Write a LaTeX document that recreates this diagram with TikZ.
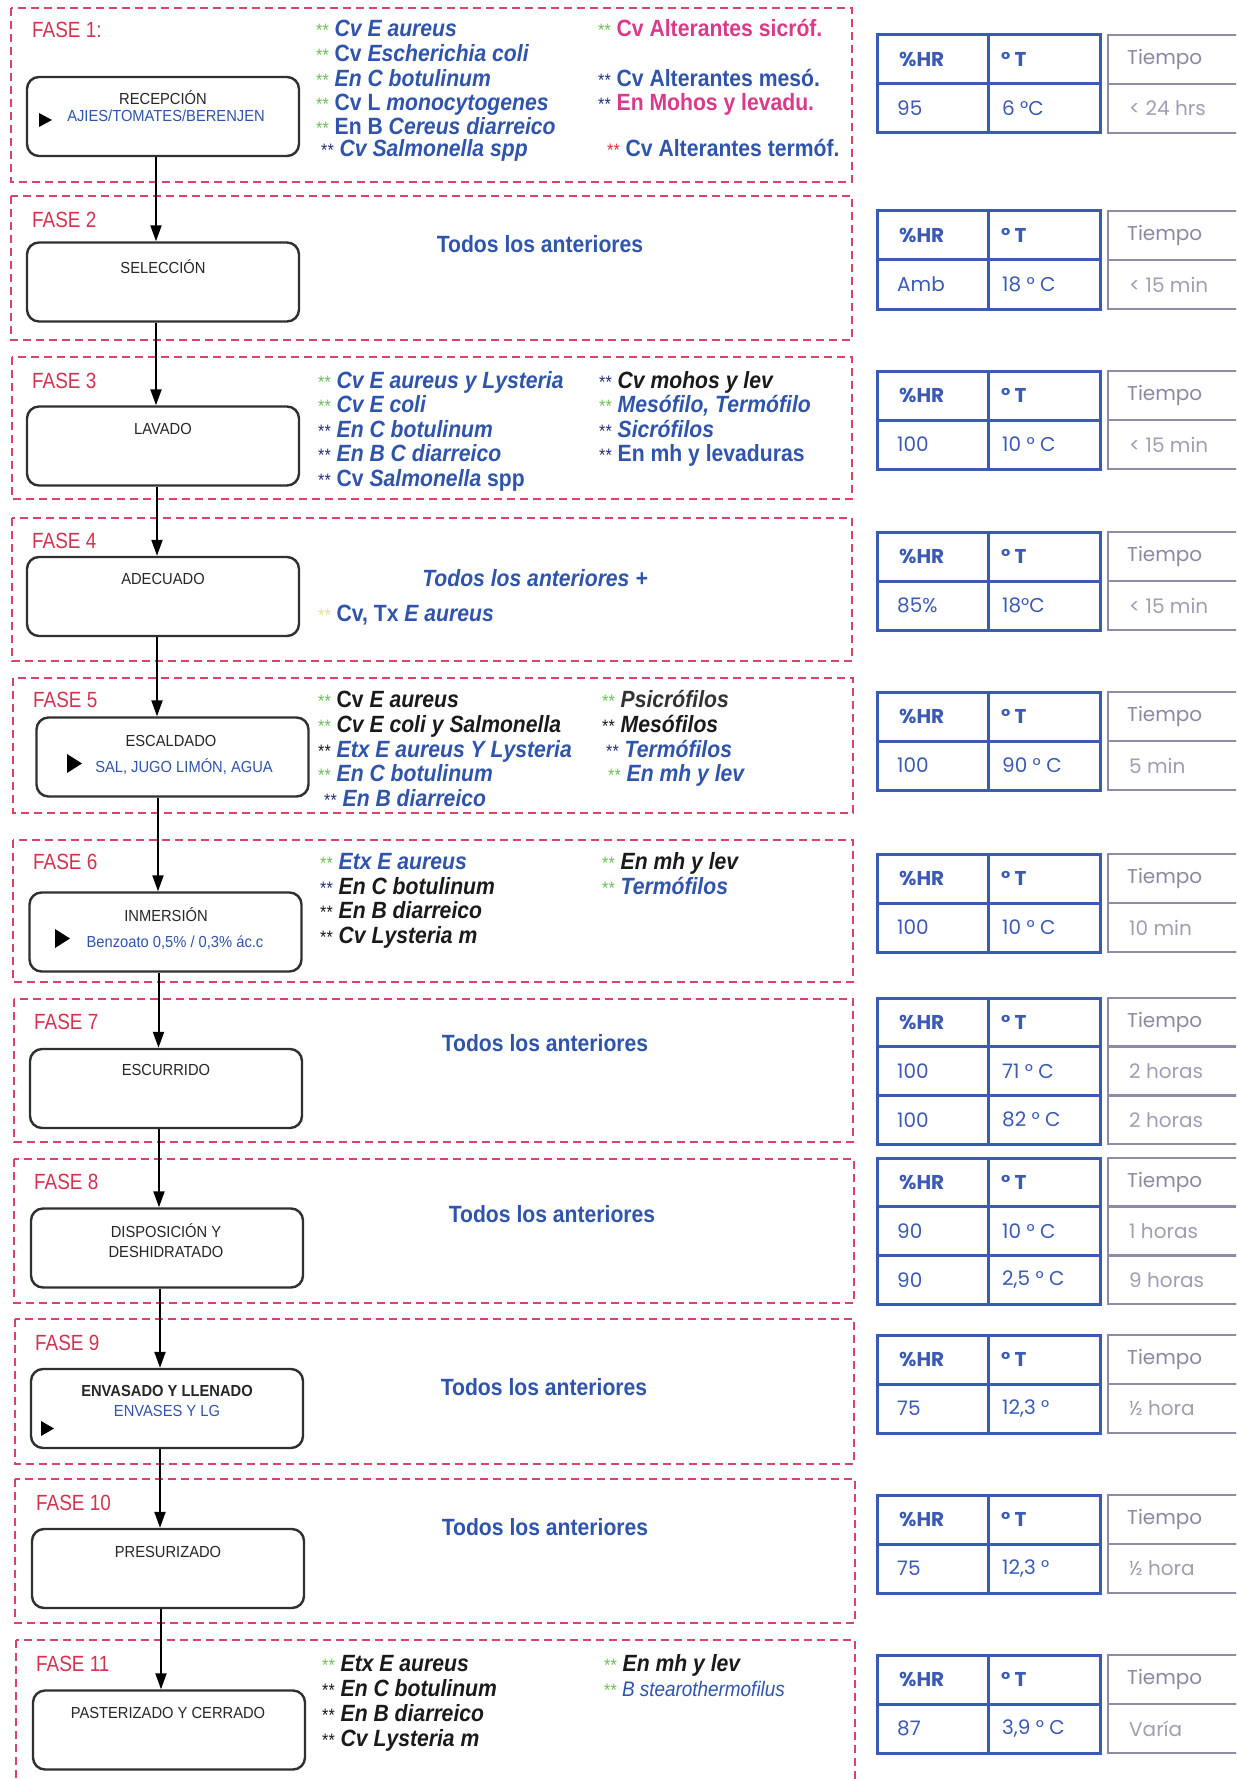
\documentclass[tikz,border=0pt]{standalone}
\usepackage{fontspec}
\usetikzlibrary{arrows.meta}
\setmainfont{Liberation Sans}
\newfontfamily\micfont{Liberation Sans}[FakeStretch=0.9]
\newfontfamily\fasefont{Liberation Sans}[FakeStretch=0.86]
\newfontfamily\tabfont{Poppins}
\newfontfamily\boxfont{Liberation Sans}[FakeStretch=0.92]

\definecolor{phasered}{HTML}{D9436A}
\definecolor{faselbl}{HTML}{D43350}
\definecolor{mblue}{HTML}{2F54AC}
\definecolor{mnavy}{HTML}{22307E}
\definecolor{mgreen}{HTML}{6CC05A}
\definecolor{mpink}{HTML}{D93A8A}
\definecolor{mred}{HTML}{E2303A}
\definecolor{myellow}{HTML}{F0E66A}
\definecolor{mblack}{HTML}{1A1A1A}
\definecolor{mgray}{HTML}{333333}
\definecolor{boxgray}{HTML}{303030}
\definecolor{boxtext}{HTML}{262626}
\definecolor{hrblue}{HTML}{3A5BB4}
\definecolor{hrtext}{HTML}{3A5AB6}
\definecolor{tline}{HTML}{8E8AA8}
\definecolor{thead}{HTML}{8C88A2}
\definecolor{tval}{HTML}{A09EB2}

% two small asterisks in front of each entry
\newcommand{\twostar}[1]{{\mdseries\upshape\fontsize{18}{18}\selectfont\textcolor{#1}{**}}\ }

\tikzset{
  phase/.style={draw=phasered, line width=1.8pt, dash pattern=on 8pt off 5pt},
  procbox/.style={draw=boxgray, line width=2.4pt, rounded corners=12pt,
    minimum width=272pt, minimum height=79pt, inner sep=0pt, fill=white},
  flow/.style={line width=2pt, draw=black, -{Triangle[length=16pt,width=11pt]}},
  fasename/.style={anchor=base west, inner sep=0pt, text=faselbl,
    font=\fasefont\fontsize{22}{26}\selectfont},
  mic/.style={anchor=base west, inner sep=0pt, font=\micfont\bfseries\fontsize{23.5}{28}\selectfont},
  todos/.style={inner sep=0pt, text=mblue, font=\micfont\bfseries\fontsize{23.5}{28}\selectfont},
  boxtxt/.style={inner sep=0pt, text=boxtext, font=\boxfont\fontsize{16}{20}\selectfont},
  boxsub/.style={inner sep=0pt, text=mblue, font=\boxfont\fontsize{16}{20}\selectfont},
  hrl/.style={draw=hrblue, line width=3pt},
  tl/.style={draw=tline, line width=2.6pt},
  hrhead/.style={anchor=west, inner sep=0pt, text=hrtext, font=\tabfont\bfseries\fontsize{20}{24}\selectfont},
  hrval/.style={anchor=west, inner sep=0pt, text=hrtext, font=\tabfont\fontsize{20}{24}\selectfont},
  thd/.style={anchor=west, inner sep=0pt, text=thead, font=\tabfont\fontsize{20}{24}\selectfont},
  tvl/.style={anchor=west, inner sep=0pt, text=tval, font=\tabfont\fontsize{20}{24}\selectfont},
}

% condition table with one row of values
\newcommand{\tabdos}[5]{%
  \draw[hrl] (877,#2) rectangle (1100,#2+98);
  \draw[hrl] (988,#2) -- (988,#2+98);
  \draw[hrl] (877,#2+49) -- (1100,#2+49);
  \draw[tl] (1108,#2) rectangle (1270,#2+98);
  \draw[tl] (1108,#2+49) -- (1270,#2+49);
  \node[hrhead] (#1h1) at (899,#2+24.5) {\%HR};
  \node[hrhead] (#1h2) at (1001,#2+24.5) {° T};
  \node[thd] (#1h3) at (1127,#2+24.5) {Tiempo};
  \node[hrval] (#1a1) at (897,#2+73.5) {#3};
  \node[hrval] (#1a2) at (1002,#2+73.5) {#4};
  \node[tvl] (#1a3) at (1129,#2+73.5) {#5};
}
% condition table with two rows of values
\newcommand{\tabtres}[8]{%
  \draw[hrl] (877,#2) rectangle (1100,#2+146);
  \draw[hrl] (988,#2) -- (988,#2+146);
  \draw[hrl] (877,#2+48.7) -- (1100,#2+48.7);
  \draw[hrl] (877,#2+97.3) -- (1100,#2+97.3);
  \draw[tl] (1108,#2) rectangle (1270,#2+146);
  \draw[tl] (1108,#2+48.7) -- (1270,#2+48.7);
  \draw[tl] (1108,#2+97.3) -- (1270,#2+97.3);
  \node[hrhead] (#1h1) at (899,#2+24.3) {\%HR};
  \node[hrhead] (#1h2) at (1001,#2+24.3) {° T};
  \node[thd] (#1h3) at (1127,#2+24.3) {Tiempo};
  \node[hrval] (#1a1) at (897,#2+73) {#3};
  \node[hrval] (#1a2) at (1002,#2+73) {#4};
  \node[tvl] (#1a3) at (1129,#2+73) {#5};
  \node[hrval] (#1b1) at (897,#2+121.7) {#6};
  \node[hrval] (#1b2) at (1002,#2+121.7) {#7};
  \node[tvl] (#1b3) at (1129,#2+121.7) {#8};
}

\begin{document}
\begin{tikzpicture}[x=1pt, y=-1pt]
\useasboundingbox (0,0) rectangle (1236,1779);
\fill[white] (0,0) rectangle (1236,1779);
\clip (0,0) rectangle (1236,1779);

% phase frames
\draw[phase] (11,8) rectangle (852,182);
\draw[phase] (11,196) rectangle (852,340);
\draw[phase] (12,357) rectangle (852,499);
\draw[phase] (12,518) rectangle (852,661);
\draw[phase] (13,678) rectangle (853,813);
\draw[phase] (13,840) rectangle (853,982);
\draw[phase] (14,999) rectangle (853,1142);
\draw[phase] (14,1159) rectangle (854,1303);
\draw[phase] (15,1319) rectangle (854,1464);
\draw[phase] (15,1479) rectangle (855,1623);
\draw[phase] (16,1640) rectangle (855,1810);

% phase names
\node[fasename] (n1) at (32,38) {FASE 1:};
\node[fasename] (n2) at (32,228) {FASE 2};
\node[fasename] (n3) at (32,388) {FASE 3};
\node[fasename] (n4) at (32,548) {FASE 4};
\node[fasename] (n5) at (33,707) {FASE 5};
\node[fasename] (n6) at (33,869) {FASE 6};
\node[fasename] (n7) at (34,1029) {FASE 7};
\node[fasename] (n8) at (34,1189) {FASE 8};
\node[fasename] (n9) at (35,1350) {FASE 9};
\node[fasename] (n10) at (36,1510) {FASE 10};
\node[fasename] (n11) at (36,1671) {FASE 11};

% process steps
\node[procbox] (b1) at (163,116.5) {};
\node[procbox] (b2) at (163,282) {};
\node[procbox] (b3) at (163,446) {};
\node[procbox] (b4) at (163,596.5) {};
\node[procbox] (b5) at (172.5,757) {};
\node[procbox] (b6) at (165.5,932) {};
\node[procbox] (b7) at (166,1088.5) {};
\node[procbox] (b8) at (167,1248) {};
\node[procbox] (b9) at (167,1408.5) {};
\node[procbox] (b10) at (168,1568.5) {};
\node[procbox] (b11) at (169,1730) {};

% step titles and inputs
\node[boxtxt] (l1) at (163,98) {RECEPCIÓN};
\node[boxsub] (i1) at (166,116) {AJIES/TOMATES/BERENJEN};
\fill[black] (39,113) -- (52,120) -- (39,127) -- cycle;
\node[boxtxt] (l2) at (163,267) {SELECCIÓN};
\node[boxtxt] (l3) at (163,429) {LAVADO};
\node[boxtxt] (l4) at (163,579) {ADECUADO};
\node[boxtxt] (l5) at (171,741) {ESCALDADO};
\node[boxsub] (i5) at (184,767) {SAL, JUGO LIMÓN, AGUA};
\fill[black] (67,754) -- (82,763.5) -- (67,773) -- cycle;
\node[boxtxt] (l6) at (166,915) {INMERSIÓN};
\node[boxsub] (i6) at (175,943) {Benzoato 0,5\% / 0,3\% ác.c};
\fill[black] (55,929) -- (70,938.5) -- (55,948) -- cycle;
\node[boxtxt] (l7) at (166,1070) {ESCURRIDO};
\node[boxtxt, align=center] (l8) at (166,1240.5) {DISPOSICIÓN Y\\DESHIDRATADO};
\node[boxtxt, font=\boxfont\bfseries\fontsize{16}{20}\selectfont] (l9) at (167,1391) {ENVASADO Y LLENADO};
\node[boxsub] (i9) at (167,1411) {ENVASES Y LG};
\fill[black] (41,1421) -- (54,1428.5) -- (41,1436) -- cycle;
\node[boxtxt] (l10) at (168,1552) {PRESURIZADO};
\node[boxtxt] (l11) at (168,1713) {PASTERIZADO Y CERRADO};

% flow between steps
\coordinate (s1) at (156,0);
\coordinate (s2) at (156,0);
\coordinate (s3) at (157,0);
\coordinate (s4) at (157,0);
\coordinate (s5) at (158,0);
\coordinate (s6) at (158.5,0);
\coordinate (s7) at (159,0);
\coordinate (s8) at (160,0);
\coordinate (s9) at (160,0);
\coordinate (s10) at (161,0);
\draw[flow] (b1.south -| s1) -- (b2.north -| s1);
\draw[flow] (b2.south -| s2) -- (b3.north -| s2);
\draw[flow] (b3.south -| s3) -- (b4.north -| s3);
\draw[flow] (b4.south -| s4) -- (b5.north -| s4);
\draw[flow] (b5.south -| s5) -- (b6.north -| s5);
\draw[flow] (b6.south -| s6) -- (b7.north -| s6);
\draw[flow] (b7.south -| s7) -- (b8.north -| s7);
\draw[flow] (b8.south -| s8) -- (b9.north -| s8);
\draw[flow] (b9.south -| s9) -- (b10.north -| s9);
\draw[flow] (b10.south -| s10) -- (b11.north -| s10);

% FASE 1 hazards
\node[mic,text=mblue] (p1a) at (316,37) {\twostar{mgreen}\textit{Cv E aureus}};
\node[mic,text=mblue] (p1b) at (316,62) {\twostar{mgreen}Cv \textit{Escherichia coli}};
\node[mic,text=mblue] (p1c) at (316,87) {\twostar{mgreen}\textit{En C botulinum}};
\node[mic,text=mblue] (p1d) at (316,111) {\twostar{mgreen}Cv L \textit{monocytogenes}};
\node[mic,text=mblue] (p1e) at (316,135) {\twostar{mgreen}En B \textit{Cereus diarreico}};
\node[mic,text=mblue] (p1f) at (321,157) {\twostar{mnavy}\textit{Cv Salmonella spp}};
\node[mic,text=mpink] (q1a) at (598,37) {\twostar{mgreen}Cv Alterantes sicróf.};
\node[mic,text=mblue] (q1b) at (598,87) {\twostar{mnavy}Cv Alterantes mesó.};
\node[mic,text=mpink] (q1c) at (598,111) {\twostar{mnavy}En Mohos y levadu.};
\node[mic,text=mblue] (q1d) at (607,157) {\twostar{mred}Cv Alterantes termóf.};

% FASE 2
\node[todos] (t2) at (540,244) {Todos los anteriores};

% FASE 3 hazards
\node[mic,text=mblue] (p3a) at (318,388) {\twostar{mgreen}\textit{Cv E aureus y Lysteria}};
\node[mic,text=mblue] (p3b) at (318,412) {\twostar{mgreen}\textit{Cv E coli}};
\node[mic,text=mblue] (p3c) at (318,437) {\twostar{mnavy}\textit{En C botulinum}};
\node[mic,text=mblue] (p3d) at (318,461) {\twostar{mnavy}\textit{En B C diarreico}};
\node[mic,text=mblue] (p3e) at (318,486) {\twostar{mnavy}Cv \textit{Salmonella} spp};
\node[mic,text=mblack] (q3a) at (599,388) {\twostar{mnavy}\textit{Cv mohos y lev}};
\node[mic,text=mblue] (q3b) at (599,412) {\twostar{mgreen}\textit{Mesófilo, Termófilo}};
\node[mic,text=mblue] (q3c) at (599,437) {\twostar{mnavy}\textit{Sicrófilos}};
\node[mic,text=mblue] (q3d) at (599,461) {\twostar{mnavy}En mh y levaduras};

% FASE 4
\node[todos] (t4) at (535,578) {\textit{Todos los anteriores +}};
\node[mic,text=mblue] (p4a) at (318,621) {\twostar{myellow}Cv, Tx \textit{E aureus}};

% FASE 5 hazards
\node[mic,text=mblack] (p5a) at (318,707) {\twostar{mgreen}Cv \textit{E aureus}};
\node[mic,text=mblack] (p5b) at (318,732) {\twostar{mgreen}\textit{Cv E coli y Salmonella}};
\node[mic,text=mblue] (p5c) at (318,757) {\twostar{mblack}\textit{Etx E aureus Y Lysteria}};
\node[mic,text=mblue] (p5d) at (318,781) {\twostar{mgreen}\textit{En C botulinum}};
\node[mic,text=mblue] (p5e) at (324,806) {\twostar{mnavy}\textit{En B diarreico}};
\node[mic,text=mgray] (q5a) at (602,707) {\twostar{mgreen}\textit{Psicrófilos}};
\node[mic,text=mblack] (q5b) at (602,732) {\twostar{mblack}\textit{Mesófilos}};
\node[mic,text=mblue] (q5c) at (606,757) {\twostar{mnavy}\textit{Termófilos}};
\node[mic,text=mblue] (q5d) at (608,781) {\twostar{mgreen}\textit{En mh y lev}};

% FASE 6 hazards
\node[mic,text=mblue] (p6a) at (320,869) {\twostar{mgreen}\textit{Etx E aureus}};
\node[mic,text=mblack] (p6b) at (320,894) {\twostar{mnavy}\textit{En C botulinum}};
\node[mic,text=mblack] (p6c) at (320,918) {\twostar{mblack}\textit{En B diarreico}};
\node[mic,text=mblack] (p6d) at (320,943) {\twostar{mblack}\textit{Cv Lysteria m}};
\node[mic,text=mblack] (q6a) at (602,869) {\twostar{mgreen}\textit{En mh y lev}};
\node[mic,text=mblue] (q6b) at (602,894) {\twostar{mgreen}\textit{Termófilos}};

% FASES 7 to 10
\node[todos] (t7) at (545,1043) {Todos los anteriores};
\node[todos] (t8) at (552,1214) {Todos los anteriores};
\node[todos] (t9) at (544,1387) {Todos los anteriores};
\node[todos] (t10) at (545,1527) {Todos los anteriores};

% FASE 11 hazards
\node[mic,text=mblack] (p11a) at (322,1671) {\twostar{mgreen}\textit{Etx E aureus}};
\node[mic,text=mblack] (p11b) at (322,1696) {\twostar{mblack}\textit{En C botulinum}};
\node[mic,text=mblack] (p11c) at (322,1721) {\twostar{mblack}\textit{En B diarreico}};
\node[mic,text=mblack] (p11d) at (322,1746) {\twostar{mblack}\textit{Cv Lysteria m}};
\node[mic,text=mblack] (q11a) at (604,1671) {\twostar{mgreen}\textit{En mh y lev}};
\node[mic,text=mblue, font=\micfont\mdseries\fontsize{21}{25}\selectfont] (q11b) at (604,1696) {\twostar{mgreen}\textit{B stearothermofilus}};

% humidity, temperature and time per phase
\tabdos{ta}{35}{95}{6 °C}{< 24 hrs}
\tabdos{tb}{211}{Amb}{18 ° C}{< 15 min}
\tabdos{tc}{371}{100}{10 ° C}{< 15 min}
\tabdos{td}{532}{85\%}{18°C}{< 15 min}
\tabdos{te}{692}{100}{90 ° C}{5 min}
\tabdos{tf}{854}{100}{10 ° C}{10 min}
\tabtres{tg}{998}{100}{71 ° C}{2 horas}{100}{82 ° C}{2 horas}
\tabtres{th}{1158}{90}{10 ° C}{1 horas}{90}{2,5 ° C}{9 horas}
\tabdos{ti}{1335}{75}{12,3 °}{½ hora}
\tabdos{tj}{1495}{75}{12,3 °}{½ hora}
\tabdos{tk}{1655}{87}{3,9 ° C}{Varía}
\end{tikzpicture}
\end{document}
